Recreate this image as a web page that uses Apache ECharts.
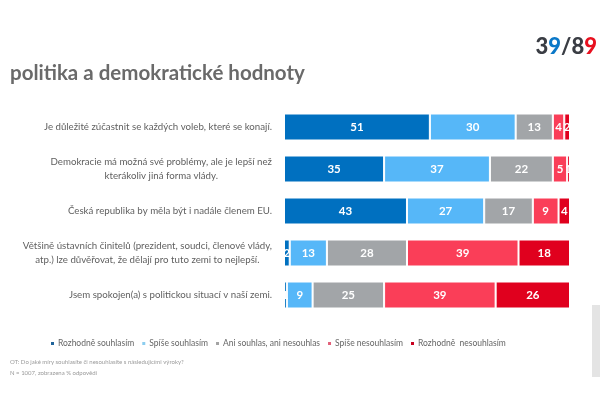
<!DOCTYPE html>
<html><head><meta charset="utf-8">
<script src="https://cdn.jsdelivr.net/npm/echarts@6/dist/echarts.min.js"></script>
<style>html,body{margin:0;padding:0;background:#fff}#c{width:600px;height:400px}</style>
</head><body><div id="c"></div>
<script>
const categories = [
  "Je důležité zúčastnit se každých voleb, které se konají.",
  "Demokracie má možná své problémy, ale je lepší než\nkterákoliv jiná forma vlády.",
  "Česká republika by měla být i nadále členem EU.",
  "Většině ústavních činitelů (prezident, soudci, členové vlády,\natp.) lze důvěřovat, že dělají pro tuto zemi to nejlepší.",
  "Jsem spokojen(a) s politickou situací v naší zemi."
];
const seriesNames = ["Rozhodně souhlasím", "Spíše souhlasím", "Ani souhlas, ani nesouhlas", "Spíše nesouhlasím", "Rozhodně  nesouhlasím"];
const rozhodneSouhlasim = [51, 35, 43, 2, 1];
const spiseSouhlasim = [30, 37, 27, 13, 9];
const aniAni = [13, 22, 17, 28, 25];
const spiseNesouhlasim = [4, 5, 9, 39, 39];
const rozhodneNesouhlasim = [2, 1, 4, 18, 26];
const seriesValues = [rozhodneSouhlasim, spiseSouhlasim, aniAni, spiseNesouhlasim, rozhodneNesouhlasim];
const colors = ["#0070c0", "#56b7f8", "#a2a5a8", "#fa3e58", "#e0001e"];
const legendIconColors = ["#20649a", "#8ccdef", "#a3a3a3", "#e26079", "#c8001f"];

const font = "Lato, 'Open Sans', sans-serif";
const chart = echarts.init(document.getElementById('c'), null, {renderer: 'canvas'});
chart.setOption({
  animation: false,
  color: colors,
  title: [
    {text: "politika a demokratické hodnoty", left: 5, top: 58,
     textStyle: {fontFamily: font, fontSize: 20.5, fontWeight: 'bold', color: '#6a6a6a'}},
    {text: "OT: Do jaké míry souhlasíte či nesouhlasíte s následujícími výroky?\nN = 1007, zobrazena % odpovědí", left: 5, top: 352,
     textStyle: {fontFamily: font, fontSize: 6, fontWeight: 'normal', color: '#9a9a9a', lineHeight: 11}}
  ],
  legend: {
    left: 44, top: 334, width: 560, icon: 'rect', itemWidth: 5, itemHeight: 5, itemGap: 6,
    textStyle: {fontFamily: font, fontSize: 8.5, color: '#666', padding: [0, 0, 0, -2]},
    data: seriesNames.map((n, i) => ({name: n, itemStyle: {color: legendIconColors[i]}}))
  },
  grid: {left: 284, right: 30, top: 106, height: 210},
  xAxis: {type: 'value', min: 0, max: 100, show: false},
  yAxis: {
    type: 'category', inverse: true, data: categories,
    axisLine: {show: false}, axisTick: {show: false},
    axisLabel: {
      margin: 12, align: 'right', fontFamily: font, fontSize: 9.7, color: '#5f5f5f', lineHeight: 14,
      formatter: v => v.split('\n').map(l => '{c|' + l + '}').join('\n'),
      rich: {c: {align: 'center', fontFamily: font, fontSize: 9.7, color: '#5f5f5f', lineHeight: 14}}
    }
  },
  series: seriesNames.map((n, i) => ({
    name: n, type: 'bar', stack: 'all', barWidth: 27,
    data: seriesValues[i],
    itemStyle: {borderColor: '#fff', borderWidth: 1},
    label: {show: true, position: 'inside', color: '#fff', fontFamily: font, fontWeight: 'bold', fontSize: 11.5}
  })),
  graphic: [
    {type: 'text', right: 3, top: 36, style: {
      text: '{d|3}{b|9}{d|/}{d|8}{r|9}', rich: {
        d: {fontFamily: font, fontSize: 22, fontWeight: 900, fill: '#3a3d44'},
        b: {fontFamily: font, fontSize: 22, fontWeight: 900, fill: '#0a78c8'},
        r: {fontFamily: font, fontSize: 22, fontWeight: 900, fill: '#e8101f'}
      }}},
    {type: 'rect', left: 592, top: 305, shape: {width: 8, height: 72}, style: {fill: '#e4e4e4'}}
  ]
});
</script></body></html>
